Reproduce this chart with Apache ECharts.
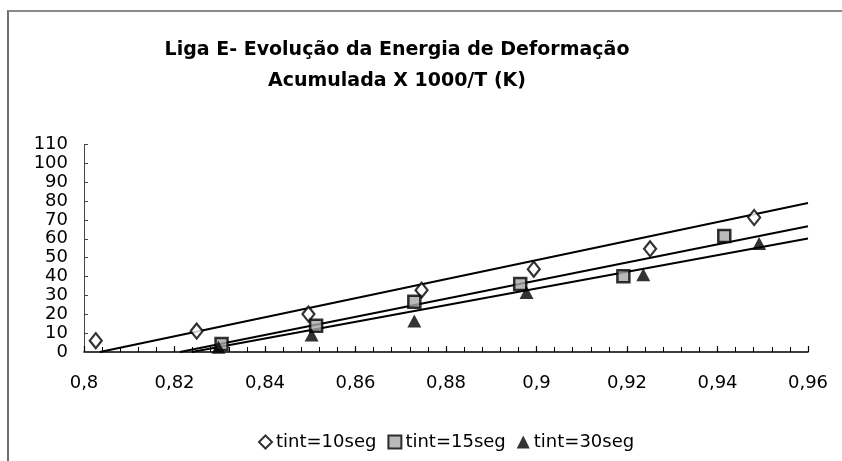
<!DOCTYPE html>
<html><head><meta charset="utf-8">
<script src="https://cdn.jsdelivr.net/npm/echarts@6/dist/echarts.min.js"></script>
<style>
html,body{margin:0;padding:0;background:#fff;}
#c{width:842px;height:461px;}
#frame{position:absolute;left:7px;top:10px;width:835px;height:451px;border-left:2px solid #6e6e6e;border-top:2px solid #8a8a8a;pointer-events:none;}
</style></head>
<body>
<div id="c"></div>
<div id="frame"></div>
<script>
// Data
const titleText = 'Liga E- Evolução da Energia de Deformação\nAcumulada X 1000/T (K)';
const seriesNames = ['tint=10seg', 'tint=15seg', 'tint=30seg'];
const xTicks = { min: 0.8, max: 0.96, interval: 0.02 };
const yTicks = { min: 0, max: 110, interval: 10 };

const x10 = [0.8026, 0.8249, 0.8496, 0.8746, 0.8994, 0.9251, 0.9481];
const y10 = [6.0, 11.1, 20.1, 32.8, 43.9, 54.7, 71.3];

const x15 = [0.8304, 0.8513, 0.8730, 0.8964, 0.9192, 0.9415];
const y15 = [4.2, 13.9, 26.6, 36.0, 40.2, 61.5];

const x30 = [0.8297, 0.8503, 0.8730, 0.8978, 0.9236, 0.9492];
const y30 = [2.5, 9.0, 16.5, 31.5, 41.0, 57.5];

// Trend lines (end points)
const trend10x = [0.8035, 0.96];
const trend10y = [0, 79];
const trend15x = [0.8212, 0.96];
const trend15y = [0, 66.7];
const trend30x = [0.8238, 0.96];
const trend30y = [0, 60.2];

const zip = (xs, ys) => xs.map((x, i) => [x, ys[i]]);
const font = 'DejaVu Sans';

const chart = echarts.init(document.getElementById('c'), null, { renderer: 'canvas' });

const trendSeries = (name, xs, ys) => ({
  name: name, type: 'line', data: zip(xs, ys), symbol: 'none', silent: true,
  lineStyle: { color: '#000', width: 2 }, z: 2, animation: false
});

chart.setOption({
  animation: false,
  backgroundColor: '#fff',
  title: {
    text: titleText,
    left: 392, top: 30, textAlign: 'center',
    textStyle: { fontFamily: font, fontWeight: 'bold', fontSize: 19, lineHeight: 31, color: '#000' }
  },
  legend: {
    data: seriesNames,
    left: 253, top: 428,
    itemWidth: 13, itemHeight: 13, itemGap: 11,
    textStyle: { fontFamily: font, fontSize: 18, color: '#000', padding: [0, 0, 0, -1] }
  },
  grid: { left: 84, right: 34, top: 144.5, bottom: 109, containLabel: false },
  xAxis: {
    type: 'value', min: xTicks.min, max: xTicks.max, interval: xTicks.interval,
    axisLine: { lineStyle: { color: '#000', width: 1.5 } },
    axisTick: { inside: true, length: 6, lineStyle: { color: '#000', width: 1.2 } },
    minorTick: { show: true, splitNumber: 5, length: 5, lineStyle: { color: '#000', width: 1 } },
    splitLine: { show: false },
    axisLabel: {
      fontFamily: font, fontSize: 18, color: '#000', margin: 22,
      formatter: v => String(Math.round(v * 100) / 100).replace('.', ',')
    }
  },
  yAxis: {
    type: 'value', min: yTicks.min, max: yTicks.max, interval: yTicks.interval,
    axisLine: { show: true, lineStyle: { color: '#444', width: 1 } },
    axisTick: { show: true, inside: true, length: 4, lineStyle: { color: '#444', width: 1 } },
    splitLine: { show: false },
    axisLabel: { fontFamily: font, fontSize: 18, color: '#000', margin: 16 }
  },
  series: [
    trendSeries('trend10', trend10x, trend10y),
    trendSeries('trend15', trend15x, trend15y),
    trendSeries('trend30', trend30x, trend30y),
    {
      name: seriesNames[0], type: 'scatter', data: zip(x10, y10),
      symbol: 'diamond', symbolSize: [12, 15], z: 5,
      itemStyle: { color: '#fff', borderColor: '#000', borderWidth: 2.2 }
    },
    {
      name: seriesNames[1], type: 'scatter', data: zip(x15, y15),
      symbol: 'rect', symbolSize: 12, z: 5,
      itemStyle: { color: '#a8a8a8', borderColor: '#000', borderWidth: 2.5 }
    },
    {
      name: seriesNames[2], type: 'scatter', data: zip(x30, y30),
      symbol: 'triangle', symbolSize: [14, 13], z: 5,
      itemStyle: { color: '#000', borderColor: '#000', borderWidth: 0 }
    }
  ]
});
</script>
</body></html>
